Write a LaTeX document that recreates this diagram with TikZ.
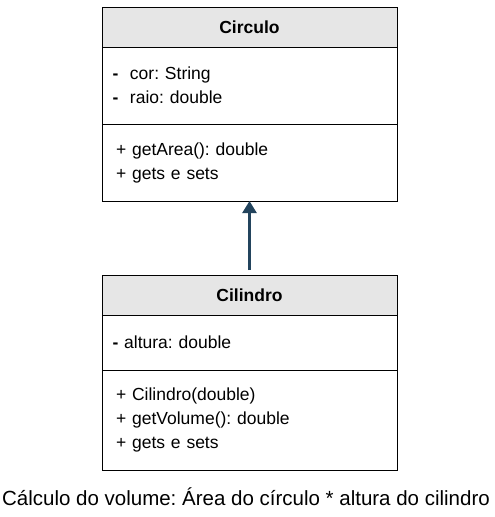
\documentclass[tikz,border=0pt]{standalone}
\usepackage{fontspec}
\setmainfont{Liberation Sans}
\usepackage{xcolor}
\usetikzlibrary{arrows.meta,positioning}
\definecolor{headgray}{HTML}{E6E6E6}
\definecolor{arrowblue}{HTML}{23445D}
\frenchspacing

\begin{document}
\begin{tikzpicture}[x=1pt,y=1pt,
  head/.style={draw,line width=1pt,outer sep=0pt,fill=headgray,minimum width=295pt,minimum height=40pt,inner sep=0pt,font=\fontsize{17.5}{24}\bfseries\selectfont},
  part/.style={draw,line width=1pt,outer sep=0pt,minimum width=295pt,text width=267pt,align=left,inner xsep=14pt,inner ysep=0pt,font=\fontsize{17.5}{24}\selectfont},
  attrs/.style={part,inner xsep=10.5pt,text width=274pt}]
\useasboundingbox (0,0) rectangle (495,-517);

% Circulo
\node[head] (circ) at (249.5,-27) {Circulo};
\node[attrs,minimum height=77pt,below=0pt of circ] (circattr) {\textbf{-}\ \ cor: String\\\textbf{-}\ \ raio: double};
\node[part,minimum height=77pt,below=0pt of circattr] (circmeth) {+ getArea(): double\\+ gets e sets};

% Cilindro
\node[head] (cil) at (249.5,-295) {Cilindro};
\node[attrs,minimum height=55pt,below=0pt of cil] (cilattr) {\textbf{-} altura: double};
\node[part,minimum height=100pt,below=0pt of cilattr] (cilmeth) {+ Cilindro(double)\\+ getVolume(): double\\+ gets e sets};

% heranca
\draw[arrowblue,line width=2.5pt,-{Triangle[width=14pt,length=12pt]},shorten <=5pt] (cil.north) -- (circmeth.south);

\node[font=\fontsize{20.5}{24}\selectfont] (calc) at (246,-497) {Cálculo do volume: Área do círculo * altura do cilindro};
\end{tikzpicture}
\end{document}
